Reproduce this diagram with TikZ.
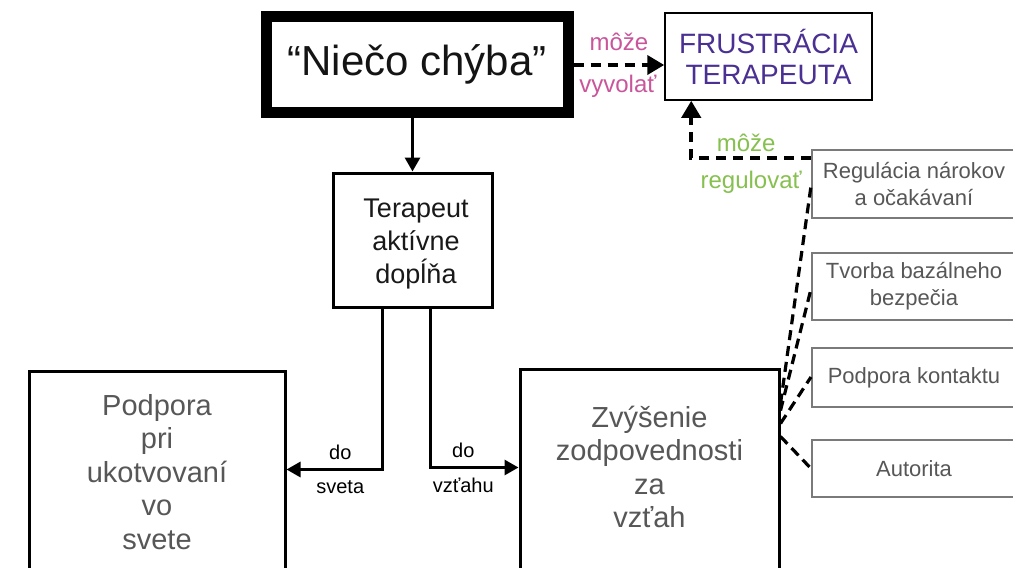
\documentclass[tikz,border=0pt]{standalone}
\usepackage{fontspec}
\setmainfont{Liberation Sans}
\usetikzlibrary{arrows.meta,calc}
\definecolor{pinkl}{HTML}{C9559B}
\definecolor{greenl}{HTML}{86C04F}
\definecolor{purplet}{HTML}{4A3092}
\definecolor{graytext}{HTML}{575757}
\definecolor{grayborder}{HTML}{7A7A7A}
\begin{document}
\begin{tikzpicture}[x=1pt,y=-1pt,
  box/.style={draw, rectangle, inner sep=0pt},
  bigbox/.style={box, line width=3pt},
  small/.style={draw=grayborder, rectangle, line width=2pt, minimum width=204pt, inner sep=0pt,
    text=graytext, align=center, font=\fontsize{22}{27}\selectfont},
  bigtext/.style={text=graytext, align=center, font=\fontsize{29}{33.5}\selectfont, inner sep=0pt},
  solidarrow/.style={line width=3pt, -{Triangle[length=14pt,width=15pt]}},
  dasharrow/.style={line width=4pt, dash pattern=on 10pt off 7pt, -{Triangle[length=17pt,width=19pt]}},
  dashline/.style={line width=3.2pt, dash pattern=on 10pt off 6pt},
  lbl/.style={font=\fontsize{20}{24}\selectfont, inner sep=0pt},
  glbl/.style={font=\fontsize{24}{28}\selectfont, inner sep=0pt}
]
\clip (0,0) rectangle (1013,568);
\fill[white] (0,0) rectangle (1013,568);

% main boxes
\node[box, line width=11pt, minimum width=302pt, minimum height=96pt,
  font=\fontsize{42}{48}\selectfont, text=black!92] (ni) at (417,64) {“Niečo chýba”};
\node[box, line width=1.5pt, minimum width=207pt, minimum height=87pt, text=purplet,
  align=center, font=\fontsize{28}{31}\selectfont] (fr) at (768.5,56.5) {FRUSTRÁCIA\\TERAPEUTA};
\node[bigbox, minimum width=159pt, minimum height=134pt] (tp) at (412.5,240) {};
\node[align=center, font=\fontsize{27}{33}\selectfont, text=black!90, inner sep=0pt] (tpt) at (416,244) {Terapeut\\aktívne\\dopĺňa};

\node[bigbox, minimum width=256pt, minimum height=269pt] (pd) at (157,505.5) {};
\node[bigtext, text width=250pt] (pdt) at (157,472) {Podpora\\pri\\ukotvovaní\\vo\\svete};
\node[bigbox, minimum width=259pt, minimum height=271pt] (zv) at (649.5,504.5) {};
\node[bigtext, text width=250pt] (zvt) at (649.5,467) {Zvýšenie\\zodpovednosti\\za\\vzťah};

% small boxes
\node[small, minimum height=68pt] (reg) at (914,184) {Regulácia nárokov\\a očakávaní};
\node[small, minimum height=67pt] (tv) at (914,286.5) {Tvorba bazálneho\\bezpečia};
\node[small, minimum height=59pt] (pk) at (914,377.5) {Podpora kontaktu};
\node[small, minimum height=57pt] (au) at (914,468.5) {Autorita};

% connectors
\draw[solidarrow] (tp.north |- ni.south) -- (tp.north);

\coordinate (a1) at ([yshift=-1pt]ni.east);
\draw[dasharrow] (a1) -- (a1 -| fr.west)
  node[midway, yshift=23pt, glbl, text=pinkl] (l1) {môže}
  node[midway, yshift=-21pt, xshift=-1pt, glbl, text=pinkl] (l2) {vyvolať};

\coordinate (r1) at ([yshift=-9pt]reg.north west);
\draw[dasharrow] (r1) -| ([xshift=27pt]fr.south west)
  node[pos=0.25, yshift=15pt, xshift=-5pt, glbl, text=greenl] (l3) {môže}
  node[pos=0.25, yshift=-24pt, glbl, text=greenl] (l4) {regulovať};

\coordinate (tL) at ([xshift=-30.5pt]tp.south);
\coordinate (tR) at ([xshift=17.5pt]tp.south);
\draw[solidarrow] (tL) |- ([yshift=-100pt]pd.north east)
  node[pos=0.75, yshift=17pt, xshift=6pt, lbl] (l5) {do}
  node[pos=0.75, yshift=-18pt, xshift=6pt, lbl] (l6) {sveta};
\draw[solidarrow] (tR) |- ([yshift=-100pt]zv.north west)
  node[pos=0.75, yshift=17pt, xshift=-11pt, lbl] (l7) {do}
  node[pos=0.75, yshift=-18pt, xshift=-11pt, lbl] (l8) {vzťahu};

\draw[dashline] ([yshift=-36pt]zv.north east) -- ([yshift=-37pt]reg.north west);
\draw[dashline] ([yshift=-43pt]zv.north east) -- ([yshift=-37pt]tv.north west);
\draw[dashline] ([yshift=-56pt]zv.north east) -- ([yshift=-30pt]pk.north west);
\draw[dashline] ([yshift=-69pt]zv.north east) -- (au.west);
\end{tikzpicture}
\end{document}
